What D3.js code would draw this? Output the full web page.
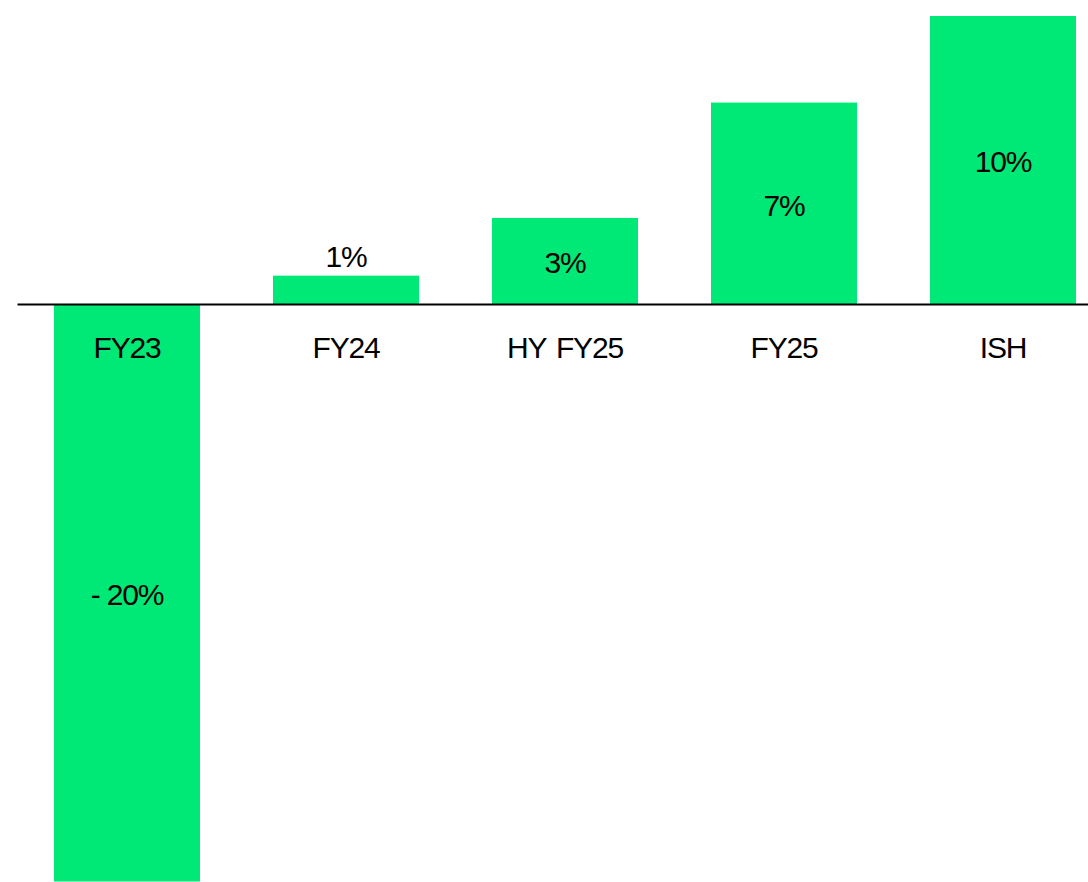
<!DOCTYPE html>
<html><head><meta charset="utf-8">
<script src="https://cdn.jsdelivr.net/npm/d3@7"></script>
<style>html,body{margin:0;padding:0;background:#fff;overflow:hidden}</style>
</head><body><svg id="c" width="1088" height="882"></svg>
<script>
const categories = ["FY23", "FY24", "HY FY25", "FY25", "ISH"];
const values = [-20, 1, 3, 7, 10];
const valueLabels = ["- 20%", "1%", "3%", "7%", "10%"];

const W = 1088, H = 882;
const svg = d3.select("#c");
const font = "'Liberation Sans', Arial, Helvetica, sans-serif";

const x = d3.scaleBand().domain(categories).range([17.5, 1112.5]).paddingInner(1/3).paddingOuter(1/6);
const y = d3.scaleLinear().domain([-20, 10]).range([881.5, 16]);
const y0 = y(0);

const data = categories.map((c, i) => ({c, v: values[i], label: valueLabels[i]}));

svg.selectAll("rect.bar").data(data).join("rect")
  .attr("class", "bar")
  .attr("x", d => x(d.c))
  .attr("width", x.bandwidth())
  .attr("y", d => Math.min(y(d.v), y0))
  .attr("height", d => Math.abs(y(d.v) - y0))
  .attr("fill", "#00e876");

svg.append("line")
  .attr("x1", x.range()[0]).attr("x2", x.range()[1])
  .attr("y1", y0).attr("y2", y0)
  .attr("stroke", "#000").attr("stroke-width", 1.8);

// category labels
svg.selectAll("text.cat").data(data).join("text")
  .attr("class", "cat")
  .attr("x", d => x(d.c) + x.bandwidth() / 2)
  .attr("y", y0 + 53.5)
  .attr("text-anchor", "middle")
  .attr("font-family", font)
  .attr("font-size", 30)
  .attr("letter-spacing", -1.2)
  .attr("word-spacing", 3)
  .attr("fill", "#000")
  .text(d => d.c);

// value labels
svg.selectAll("text.val").data(data).join("text")
  .attr("class", "val")
  .attr("x", d => x(d.c) + x.bandwidth() / 2)
  .attr("y", d => {
    const top = Math.min(y(d.v), y0), bot = Math.max(y(d.v), y0);
    if (bot - top < 50) return top - 9;
    return (top + bot) / 2 + 12;
  })
  .attr("text-anchor", "middle")
  .attr("font-family", font)
  .attr("font-size", 30)
  .attr("letter-spacing", -1.2)
  .attr("fill", "#000")
  .text(d => d.label);
</script></body></html>
